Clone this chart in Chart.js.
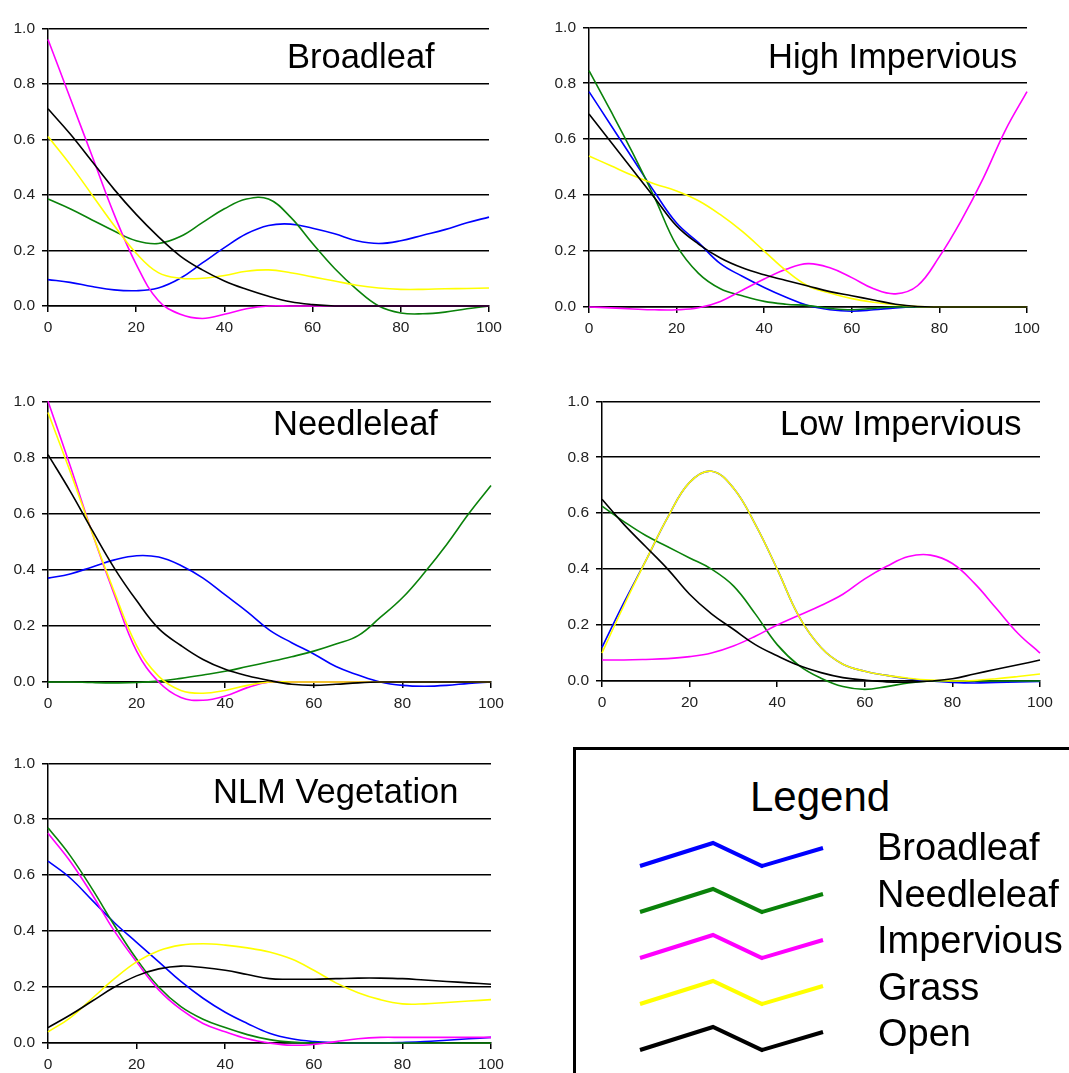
<!DOCTYPE html>
<html>
<head>
<meta charset="utf-8">
<script src="https://cdn.jsdelivr.net/npm/chart.js@4.4.1/dist/chart.umd.min.js"></script>
<style>
  html, body { margin: 0; padding: 0; background: #fff; }
  body {
    width: 1069px; height: 1073px; position: relative; overflow: hidden;
    font-family: "Liberation Sans", Arial, Helvetica, sans-serif;
  }
  canvas { position: absolute; }
  .titulo { position: absolute; font-size: 34.5px; line-height: 1; color: #000; white-space: nowrap; }
  #leyenda {
    position: absolute; left: 573px; top: 747px; width: 600px; height: 400px;
    border: 3px solid #000; box-sizing: border-box;
  }
  .ley-txt { position: absolute; line-height: 1; color: #000; white-space: nowrap; }
</style>
</head>
<body>

<script>
// --- datos (porcentaje 0..100 cada 5) ---
const pctX = [0, 5, 10, 15, 20, 25, 30, 35, 40, 45, 50, 55, 60, 65, 70, 75, 80, 85, 90, 95, 100];
const xTicks = [0, 20, 40, 60, 80, 100];
const yTicks = [0, 0.2, 0.4, 0.6, 0.8, 1.0];

const seriesNames = ["Broadleaf", "Needleleaf", "Impervious", "Grass", "Open"];
const seriesColors = ["#0000ff", "#0a820a", "#ff00ff", "#ffff00", "#000000"];
const panelTitles = ["Broadleaf", "High Impervious", "Needleleaf", "Low Impervious", "NLM Vegetation"];

// panel Broadleaf
const blBroadleaf  = [0.095, 0.085, 0.07, 0.058, 0.055, 0.065, 0.10, 0.155, 0.21, 0.26, 0.29, 0.295, 0.28, 0.26, 0.235, 0.225, 0.235, 0.255, 0.275, 0.30, 0.32];
const blNeedleleaf = [0.385, 0.35, 0.31, 0.27, 0.235, 0.225, 0.25, 0.30, 0.35, 0.385, 0.385, 0.32, 0.225, 0.135, 0.06, 0.0, -0.025, -0.028, -0.022, -0.01, 0.0];
const blImpervious = [0.96, 0.75, 0.54, 0.33, 0.15, 0.02, -0.03, -0.045, -0.03, -0.01, 0, 0, 0, 0, 0, 0, 0, 0, 0, 0, 0];
const blGrass      = [0.61, 0.51, 0.40, 0.29, 0.19, 0.12, 0.10, 0.10, 0.11, 0.125, 0.13, 0.12, 0.105, 0.09, 0.075, 0.065, 0.06, 0.06, 0.062, 0.063, 0.065];
const blOpen       = [0.71, 0.62, 0.52, 0.42, 0.33, 0.25, 0.18, 0.13, 0.09, 0.06, 0.035, 0.015, 0.005, 0, 0, 0, 0, 0, 0, 0, 0];

// panel High Impervious
const hiBroadleaf  = [0.77, 0.65, 0.53, 0.41, 0.30, 0.23, 0.155, 0.11, 0.07, 0.035, 0.005, -0.01, -0.015, -0.01, -0.003, 0, 0, 0, 0, 0, 0];
const hiNeedleleaf = [0.845, 0.70, 0.55, 0.39, 0.22, 0.12, 0.065, 0.04, 0.02, 0.01, 0.005, -0.005, -0.01, -0.005, 0, 0, 0, 0, 0, 0, 0];
const hiImpervious = [0, -0.003, -0.007, -0.01, -0.01, -0.003, 0.02, 0.06, 0.10, 0.135, 0.155, 0.14, 0.105, 0.065, 0.047, 0.076, 0.18, 0.31, 0.46, 0.63, 0.77];
const hiGrass      = [0.54, 0.505, 0.47, 0.44, 0.415, 0.38, 0.33, 0.27, 0.20, 0.13, 0.075, 0.05, 0.03, 0.017, 0.008, 0.002, 0, 0, 0, 0, 0];
const hiOpen       = [0.69, 0.59, 0.49, 0.39, 0.29, 0.225, 0.175, 0.14, 0.115, 0.095, 0.075, 0.055, 0.04, 0.025, 0.01, 0.002, 0, 0, 0, 0, 0];

// panel Needleleaf
const nlBroadleaf  = [0.37, 0.385, 0.41, 0.435, 0.45, 0.445, 0.415, 0.37, 0.31, 0.25, 0.185, 0.14, 0.10, 0.055, 0.025, 0.0, -0.012, -0.015, -0.012, -0.005, 0];
const nlNeedleleaf = [0, 0, -0.002, -0.003, -0.002, 0.003, 0.013, 0.025, 0.038, 0.055, 0.072, 0.09, 0.11, 0.135, 0.165, 0.23, 0.30, 0.39, 0.49, 0.60, 0.70];
const nlImpervious = [1.0, 0.77, 0.53, 0.31, 0.11, 0.0, -0.055, -0.065, -0.05, -0.02, 0, 0, 0, 0, 0, 0, 0, 0, 0, 0, 0];
const nlGrass      = [0.96, 0.75, 0.53, 0.32, 0.13, 0.02, -0.03, -0.04, -0.03, -0.012, 0, 0, 0, 0, 0, 0, 0, 0, 0, 0, 0];
const nlOpen       = [0.81, 0.68, 0.54, 0.405, 0.29, 0.19, 0.13, 0.08, 0.045, 0.022, 0.005, -0.008, -0.012, -0.008, -0.003, 0, 0, 0, 0, 0, 0];

// panel Low Impervious
const liBroadleaf  = [0.12, 0.28, 0.43, 0.585, 0.71, 0.75, 0.69, 0.56, 0.40, 0.23, 0.12, 0.06, 0.035, 0.02, 0.008, 0.0, -0.005, -0.007, -0.005, -0.003, -0.002];
const liNeedleleaf = [0.625, 0.57, 0.52, 0.48, 0.44, 0.40, 0.34, 0.24, 0.13, 0.055, 0.01, -0.02, -0.03, -0.02, -0.007, 0, 0, 0, 0, 0, 0];
const liImpervious = [0.075, 0.075, 0.077, 0.08, 0.087, 0.10, 0.125, 0.16, 0.20, 0.235, 0.27, 0.31, 0.365, 0.41, 0.445, 0.45, 0.42, 0.35, 0.26, 0.17, 0.10];
const liGrass      = [0.10, 0.27, 0.43, 0.585, 0.71, 0.75, 0.69, 0.56, 0.40, 0.23, 0.12, 0.06, 0.035, 0.02, 0.01, 0.003, 0, 0.002, 0.008, 0.016, 0.025];
const liOpen       = [0.65, 0.56, 0.48, 0.40, 0.31, 0.24, 0.185, 0.13, 0.09, 0.055, 0.03, 0.012, 0.003, -0.003, -0.004, 0, 0.008, 0.025, 0.042, 0.058, 0.075];

// panel NLM Vegetation
const nvBroadleaf  = [0.65, 0.59, 0.51, 0.43, 0.36, 0.29, 0.22, 0.16, 0.11, 0.07, 0.035, 0.015, 0.005, 0.001, 0, 0, 0.002, 0.005, 0.01, 0.015, 0.02];
const nvNeedleleaf = [0.77, 0.67, 0.55, 0.42, 0.30, 0.20, 0.13, 0.085, 0.055, 0.03, 0.012, 0.003, 0, 0, 0, 0, 0, 0, 0, 0, 0];
const nvImpervious = [0.75, 0.65, 0.53, 0.40, 0.29, 0.19, 0.12, 0.07, 0.04, 0.015, 0, -0.008, -0.005, 0.005, 0.015, 0.02, 0.02, 0.02, 0.02, 0.02, 0.02];
const nvGrass      = [0.04, 0.09, 0.16, 0.23, 0.29, 0.33, 0.35, 0.355, 0.35, 0.34, 0.325, 0.30, 0.26, 0.215, 0.18, 0.155, 0.14, 0.14, 0.145, 0.15, 0.155];
const nvOpen       = [0.055, 0.10, 0.15, 0.20, 0.24, 0.265, 0.275, 0.27, 0.26, 0.245, 0.23, 0.228, 0.228, 0.23, 0.232, 0.232, 0.23, 0.225, 0.22, 0.215, 0.21];

const panelSeries = [
  [blBroadleaf, blNeedleleaf, blImpervious, blGrass, blOpen],
  [hiBroadleaf, hiNeedleleaf, hiImpervious, hiGrass, hiOpen],
  [nlBroadleaf, nlNeedleleaf, nlImpervious, nlGrass, nlOpen],
  [liBroadleaf, liNeedleleaf, liImpervious, liGrass, liOpen],
  [nvBroadleaf, nvNeedleleaf, nvImpervious, nvGrass, nvOpen]
];

// --- disposicion: area de trazado de cada panel (izq, der, arriba, abajo) ---
const panelAreas = [
  { l: 48,  r: 489,  t: 24,  b: 306 },
  { l: 589, r: 1027, t: 23,  b: 307 },
  { l: 48,  r: 491,  t: 397, b: 682 },
  { l: 602, r: 1040, t: 397, b: 681 },
  { l: 48,  r: 491,  t: 759, b: 1043 }
];
const titlePos = [
  { left: 287, top: 39 },
  { left: 768, top: 39 },
  { left: 273, top: 406 },
  { left: 780, top: 406 },
  { left: 213, top: 774 }
];

const Y_W = 48, X_H = 34, PAD_T = 12, PAD_R = 20;
const tickFont = { family: '"Liberation Sans", Arial, Helvetica, sans-serif', size: 15.5 };

function crearPanel(idx) {
  const a = panelAreas[idx];
  const canvas = document.createElement("canvas");
  const w = (a.r - a.l) + Y_W + PAD_R;
  const h = (a.b - a.t) + PAD_T + X_H;
  canvas.width = w;
  canvas.height = h;
  canvas.style.left = (a.l - Y_W) + "px";
  canvas.style.top = (a.t - PAD_T) + "px";
  canvas.style.width = w + "px";
  canvas.style.height = h + "px";
  document.body.appendChild(canvas);

  // las series posteriores se dibujan encima (amarillo sobre azul, etc.)
  const datasets = panelSeries[idx].map((vals, s) => ({
    label: seriesNames[s],
    data: pctX.map((x, i) => ({ x: x, y: vals[i] })),
    borderColor: seriesColors[s],
    backgroundColor: seriesColors[s],
    borderWidth: 1.6,
    pointRadius: 0,
    tension: 0.4,
    order: -s,
    clip: false
  }));

  new Chart(canvas.getContext("2d"), {
    type: "line",
    data: { datasets: datasets },
    options: {
      responsive: false,
      animation: false,
      devicePixelRatio: 1,
      layout: { padding: { top: PAD_T, right: PAD_R, left: 0, bottom: 0 } },
      plugins: { legend: { display: false }, tooltip: { enabled: false } },
      scales: {
        x: {
          type: "linear", min: 0, max: 100,
          afterFit(s) { s.height = X_H; },
          afterBuildTicks(s) { s.ticks = xTicks.map(v => ({ value: v })); },
          ticks: { font: tickFont, color: "#222", padding: 6, maxRotation: 0 },
          grid: { drawOnChartArea: false, drawTicks: true, tickLength: 6, color: "#000", lineWidth: 1.5 },
          border: { display: true, color: "#000", width: 1.5 }
        },
        y: {
          min: 0, max: 1,
          afterFit(s) { s.width = Y_W; },
          afterBuildTicks(s) { s.ticks = yTicks.map(v => ({ value: v })); },
          ticks: { font: tickFont, color: "#222", padding: 7, callback: v => v.toFixed(1) },
          grid: { color: "#000", lineWidth: 1.5, drawTicks: true, tickLength: 6 },
          border: { display: true, color: "#000", width: 1.5 }
        }
      }
    }
  });

  const t = document.createElement("div");
  t.className = "titulo";
  t.textContent = panelTitles[idx];
  t.style.left = titlePos[idx].left + "px";
  t.style.top = titlePos[idx].top + "px";
  document.body.appendChild(t);
}

for (let i = 0; i < panelTitles.length; i++) crearPanel(i);

// --- leyenda ---
const ley = document.createElement("div");
ley.id = "leyenda";
document.body.appendChild(ley);

const cab = document.createElement("div");
cab.className = "ley-txt";
cab.style.fontSize = "42px";
cab.style.left = "750px";
cab.style.top = "776px";
cab.textContent = "Legend";
document.body.appendChild(cab);

const svgNS = "http://www.w3.org/2000/svg";
const svg = document.createElementNS(svgNS, "svg");
svg.setAttribute("width", "1069");
svg.setAttribute("height", "1073");
svg.style.position = "absolute";
svg.style.left = "0";
svg.style.top = "0";
document.body.appendChild(svg);

seriesNames.forEach((name, s) => {
  const dy = s * 46;
  const pl = document.createElementNS(svgNS, "polyline");
  pl.setAttribute("points", `640,${866 + dy} 713,${843 + dy} 762,${866 + dy} 823,${848 + dy}`);
  pl.setAttribute("fill", "none");
  pl.setAttribute("stroke", seriesColors[s]);
  pl.setAttribute("stroke-width", "4");
  svg.appendChild(pl);

  const tx = document.createElement("div");
  tx.className = "ley-txt";
  tx.style.fontSize = "38px";
  tx.style.left = (s >= 3 ? 878 : 877) + "px";
  tx.style.top = (828 + s * 46.5) + "px";
  tx.textContent = name;
  document.body.appendChild(tx);
});
</script>
</body>
</html>
